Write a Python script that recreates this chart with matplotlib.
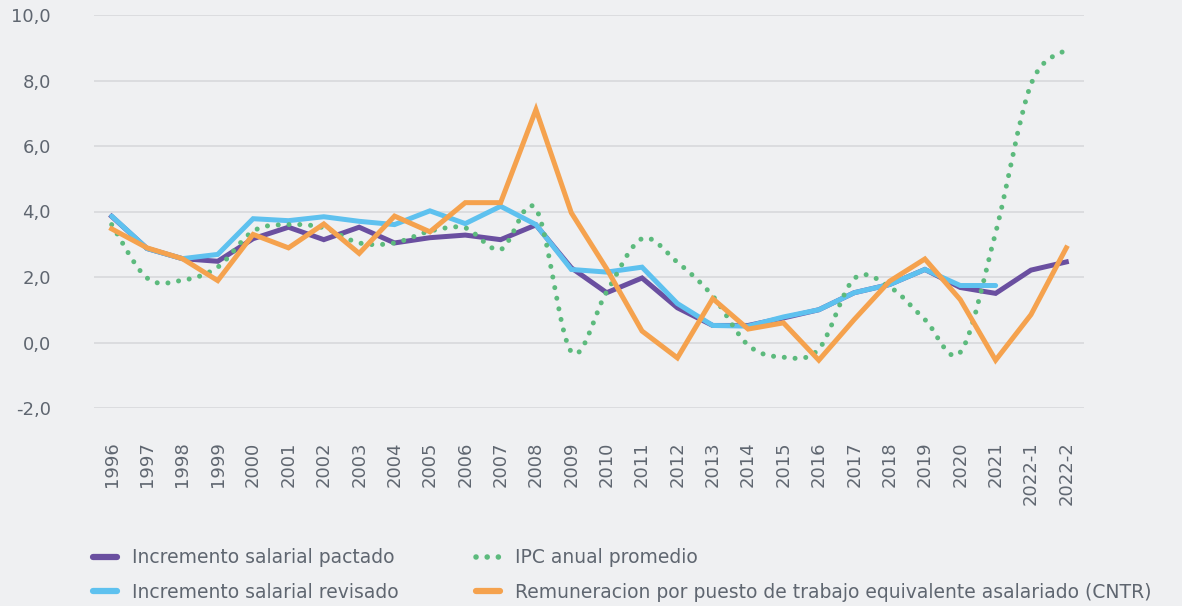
import matplotlib.pyplot as plt
from matplotlib.path import Path
from matplotlib.patches import PathPatch
from matplotlib.lines import Line2D
import numpy as np

# DATA
periodos = ['1996', '1997', '1998', '1999', '2000', '2001', '2002', '2003', '2004',
            '2005', '2006', '2007', '2008', '2009', '2010', '2011', '2012', '2013',
            '2014', '2015', '2016', '2017', '2018', '2019', '2020', '2021',
            '2022-1', '2022-2']
pactado = [3.85, 2.87, 2.56, 2.48, 3.17, 3.52, 3.14, 3.52, 3.04, 3.20, 3.28, 3.14,
           3.59, 2.28, 1.52, 1.97, 1.06, 0.52, 0.52, 0.75, 1.00, 1.52, 1.77, 2.23,
           1.68, 1.50, 2.21, 2.46]
revisado = [3.86, 2.87, 2.56, 2.69, 3.78, 3.72, 3.84, 3.70, 3.60, 4.02, 3.63, 4.16,
            3.60, 2.23, 2.15, 2.30, 1.19, 0.52, 0.50, 0.78, 1.00, 1.52, 1.77, 2.23,
            1.74, 1.74]
ipc = [3.6, 1.97, 1.9, 2.3, 3.4, 3.6, 3.5, 3.04, 3.04, 3.4, 3.5, 2.84, 4.08, -0.28,
       1.55, 3.17, 2.45, 1.42, -0.08, -0.45, -0.2, 1.95, 1.7, 0.7, -0.3, 3.35,
       7.88, 8.95]
cntr = [3.47, 2.89, 2.56, 1.89, 3.30, 2.89, 3.62, 2.72, 3.86, 3.38, 4.27, 4.27,
        7.11, 3.96, 2.25, 0.35, -0.47, 1.34, 0.41, 0.60, -0.54, 0.70, 1.87, 2.55,
        1.31, -0.54, 0.85, 2.89]
etiquetas = ['Incremento salarial pactado', 'Incremento salarial revisado',
             'IPC anual promedio',
             'Remuneracion por puesto de trabajo equivalente asalariado (CNTR)']

bg = '#eff0f2'
morado = '#6a4fa0'
azul = '#5ec1ef'
verde = '#5cba7d'
naranja = '#f5a24e'
gris = '#5f6670'

plt.rcParams['font.family'] = 'DejaVu Sans'


def suave(x, y):
    # curva tipo Catmull-Rom como la linea suavizada de Excel
    pts = np.column_stack([x, y]).astype(float)
    verts = [pts[0]]
    codes = [Path.MOVETO]
    n = len(pts)
    for i in range(n - 1):
        p0 = pts[i - 1] if i > 0 else pts[i]
        p1 = pts[i]
        p2 = pts[i + 1]
        p3 = pts[i + 2] if i + 2 < n else pts[i + 1]
        c1 = p1 + (p2 - p0) / 6.0
        c2 = p2 - (p3 - p1) / 6.0
        verts += [c1, c2, p2]
        codes += [Path.CURVE4] * 3
    return Path(verts, codes)


fig = plt.figure(figsize=(11.82, 6.06), dpi=100, facecolor=bg)
ax = fig.add_axes([94 / 1182, 1 - 408 / 606, 990 / 1182, 393 / 606])
ax.set_facecolor(bg)

x = np.arange(len(periodos))
lw = 3.6
ax.plot(x, pactado, color=morado, lw=lw, solid_joinstyle='miter', zorder=3)
ax.plot(x[:len(revisado)], revisado, color=azul, lw=lw, solid_joinstyle='miter',
        solid_capstyle='round', zorder=4)
ax.add_patch(PathPatch(suave(x, ipc), fill=False, edgecolor=verde, lw=3.6,
                       linestyle=(0, (0.01, 2.15)), capstyle='round', zorder=5))
ax.plot(x, cntr, color=naranja, lw=lw, solid_joinstyle='miter', zorder=6)

ax.set_xlim(-0.5, len(periodos) - 0.5)
ax.set_ylim(-2, 10)
ax.set_yticks(np.arange(-2, 10.1, 2))
ax.set_yticklabels([f'{v:.1f}'.replace('.', ',') for v in np.arange(-2, 10.1, 2)])
ax.set_xticks(x)
ax.set_xticklabels(periodos, rotation=90)
ax.tick_params(axis='both', length=0, colors=gris, labelsize=13)
ax.tick_params(axis='y', pad=31)
ax.tick_params(axis='x', pad=24)
ax.grid(axis='y', color='#d8d9dc', lw=1.2)
ax.set_axisbelow(True)
for s in ax.spines.values():
    s.set_visible(False)

handles = [
    Line2D([], [], color=morado, lw=4.5, solid_capstyle='round'),
    Line2D([], [], color=azul, lw=4.5, solid_capstyle='round'),
    Line2D([], [], color=verde, lw=4, linestyle=(0, (0.01, 2.0)), dash_capstyle='round'),
    Line2D([], [], color=naranja, lw=4.5, solid_capstyle='round'),
]
fig.legend(handles, etiquetas, ncol=2, loc='lower left',
           bbox_to_anchor=(93 / 1182, 4 / 606), frameon=False, borderpad=0,
           borderaxespad=0, fontsize=13.5, labelcolor=gris, handlelength=1.3,
           handletextpad=0.8, columnspacing=4.1, labelspacing=0.85)

fig.savefig('out.png', dpi=100, facecolor=bg)
